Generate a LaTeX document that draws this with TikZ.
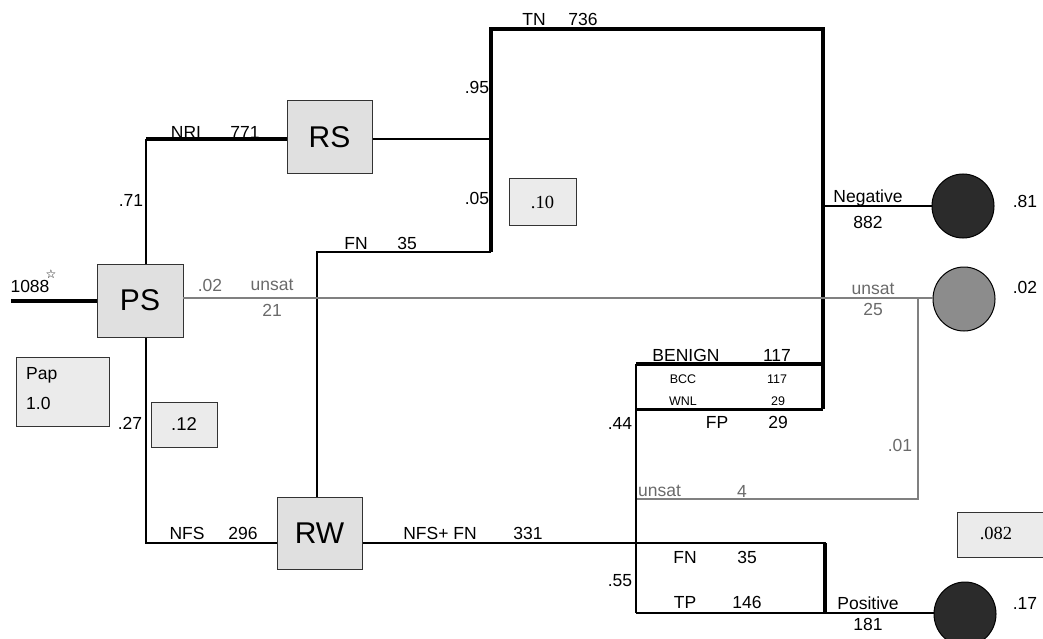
\documentclass[tikz,border=0pt]{standalone}
\usepackage{fontspec}
\setmainfont{Liberation Sans}
\newfontfamily\serifx{Liberation Serif}
\newfontfamily\symx{DejaVu Sans}
\usetikzlibrary{shapes.geometric}
\definecolor{boxfill}{HTML}{E0E0E0}
\definecolor{boxfilltwo}{HTML}{EBEBEB}
\definecolor{grayline}{HTML}{808080}
\definecolor{graytext}{HTML}{6A6A6A}
\definecolor{darkdot}{HTML}{2B2B2B}
\definecolor{graydot}{HTML}{8C8C8C}
\definecolor{boxedge}{HTML}{333333}
\begin{document}
\begin{tikzpicture}[x=1pt,y=-1pt,
  lbl/.style={font=\fontsize{17.5}{20}\selectfont, inner sep=0pt, anchor=center},
  glbl/.style={lbl, text=graytext},
  slbl/.style={font=\fontsize{12.5}{14}\selectfont, inner sep=0pt, anchor=center},
  bigbox/.style={draw=boxedge, line width=1pt, fill=boxfill, font=\fontsize{30}{32}\selectfont, inner sep=0pt},
  smallbox/.style={draw=boxedge, line width=1pt, fill=boxfilltwo, inner sep=0pt},
  thk/.style={line width=4pt},
  med/.style={line width=2.2pt},
  thn/.style={line width=1.4pt},
  gl/.style={line width=1.6pt, draw=grayline},
  dot/.style={ellipse, draw=black, line width=1pt, minimum width=62pt, minimum height=64pt, inner sep=0pt}
]
\useasboundingbox (0,0) rectangle (1043,639);

% main boxes
\node[bigbox, minimum width=86pt, minimum height=73pt] (ps) at (140,300.5) {PS};
\node[bigbox, minimum width=85pt, minimum height=73pt] (rs) at (329.5,137.5) {RS};
\node[bigbox, minimum width=85pt, minimum height=72pt] (rw) at (319.5,533) {RW};

% outcome dots
\node[dot, fill=darkdot] (neg) at (963,206) {};
\node[dot, fill=graydot] (uns) at (964,299) {};
\node[dot, fill=darkdot] (pos) at (965,614) {};

% side boxes
\node[smallbox, minimum width=93pt, minimum height=69pt] (pap) at (62.5,391.5) {};
\node[lbl, anchor=west] (papt) at (26,375) {Pap};
\node[lbl, anchor=west] (papv) at (26,403) {1.0};
\node[smallbox, minimum width=66pt, minimum height=45pt, font=\fontsize{18.5}{20}\selectfont] (b12) at (184,424.5) {.12};
\node[smallbox, minimum width=67pt, minimum height=46pt, font=\serifx\fontsize{18.5}{20}\selectfont] (b10) at (542.5,202) {.10};
\node[smallbox, minimum width=90pt, minimum height=45pt] (b082) at (1002,534.5) {};
\node[font=\serifx\fontsize{18.5}{20}\selectfont, inner sep=0pt] (b082t) at (996,533) {.082};

% coordinates
\coordinate (in) at (11,301);
\coordinate (nri) at (146,139);
\coordinate (rsr) at (491,139);
\coordinate (tnl) at (491,29);
\coordinate (tnr) at (823,29);
\coordinate (fnr) at (491,252);
\coordinate (fnl) at (317,252);
\coordinate (bnl) at (636,364);
\coordinate (bnr) at (823,364);
\coordinate (fpl) at (636,409);
\coordinate (fpr) at (823,409);
\coordinate (negl) at (823,206);
\coordinate (unl) at (183,298);
\coordinate (unr) at (918,298);
\coordinate (unb) at (918,499);
\coordinate (unbl) at (636,499);
\coordinate (nfs) at (146,543);
\coordinate (nfsfn) at (636,543);
\coordinate (pbr) at (825,543);
\coordinate (pbl) at (636,613);
\coordinate (pbrb) at (825,613);

% connectors
\draw[thk] (in) -- (ps.west |- in);
\draw[med] (ps.north -| nri) -- (nri);
\draw[thk] (nri) -- (rs.west |- nri);
\draw[med] (rs.east |- rsr) -- (rsr);
\draw[thk] (fnr) -- (tnl) -- (tnr) -- (fpr);
\draw[med] (fnr) -- (fnl) -- (rw.north -| fnl);
\draw[gl] (unl) -- (uns.west |- unl);
\draw[gl] (unr) -- (unb) -- (unbl);
\draw[thn] (negl) -- (neg.west |- negl);
\draw[thk] (bnl) -- (bnr);
\draw[line width=3pt] (fpl) -- (fpr);
\draw[med] (bnl) -- (pbl);
\draw[med] (ps.south -| nfs) -- (nfs) -- (rw.west |- nfs);
\draw[med] (rw.east |- nfsfn) -- (nfsfn) -- ([xshift=1pt]pbr);
\draw[thk] (pbr) -- (pbrb);
\draw[med] (pbl) -- (pos.west |- pbl);

% labels
\node[lbl] (l1088) at (30,286) {1088};
\node[font=\symx\bfseries\fontsize{12}{12}\selectfont, inner sep=0pt] (lstar) at (51,274) {☆};
\node[lbl] (l71) at (131,200) {.71};
\node[lbl] (lnri) at (186,132) {NRI};
\node[lbl] (l771) at (245,132) {771};
\node[lbl] (ltn) at (534,19) {TN};
\node[lbl] (l736) at (583,19) {736};
\node[lbl] (l95) at (477,87) {.95};
\node[lbl] (l05) at (477,198) {.05};
\node[lbl] (lfn) at (356,243) {FN};
\node[lbl] (l35) at (407,243) {35};
\node[glbl] (l02a) at (210,285) {.02};
\node[glbl] (lunsa) at (272,285) {unsat};
\node[glbl] (l21) at (272,310) {21};
\node[glbl] (lunsb) at (873,289) {unsat};
\node[glbl] (l25) at (873,309) {25};
\node[lbl] (lneg) at (868,198) {Negative};
\node[lbl] (l882) at (868,222) {882};
\node[lbl] (l81) at (1025,201) {.81};
\node[lbl] (l02b) at (1025,287) {.02};
\node[lbl] (lben) at (686,355) {BENIGN};
\node[lbl] (l117) at (777,355) {117};
\node[slbl] (lbcc) at (683,379) {BCC};
\node[slbl] (l117s) at (777,379) {117};
\node[slbl] (lwnl) at (683,401) {WNL};
\node[slbl] (l29s) at (778,401) {29};
\node[lbl] (l44) at (620,423) {.44};
\node[lbl] (lfp) at (717,422) {FP};
\node[lbl] (l29) at (778,422) {29};
\node[glbl] (l01) at (900,445) {.01};
\node[glbl, anchor=west] (lunsc) at (638,491) {unsat};
\node[glbl] (l4) at (742,491) {4};
\node[lbl] (l27) at (130,423) {.27};
\node[lbl] (lnfs) at (187,533) {NFS};
\node[lbl] (l296) at (243,533) {296};
\node[lbl] (lnfsfn) at (440,533) {NFS+ FN};
\node[lbl] (l331) at (528,533) {331};
\node[lbl] (lfn2) at (685,557) {FN};
\node[lbl] (l352) at (747,557) {35};
\node[lbl] (l55) at (620,581) {.55};
\node[lbl] (ltp) at (685,602) {TP};
\node[lbl] (l146) at (747,602) {146};
\node[lbl] (lposv) at (868,603) {Positive};
\node[lbl] (l181) at (868,624) {181};
\node[lbl] (l17) at (1025,603) {.17};
\end{tikzpicture}
\end{document}
